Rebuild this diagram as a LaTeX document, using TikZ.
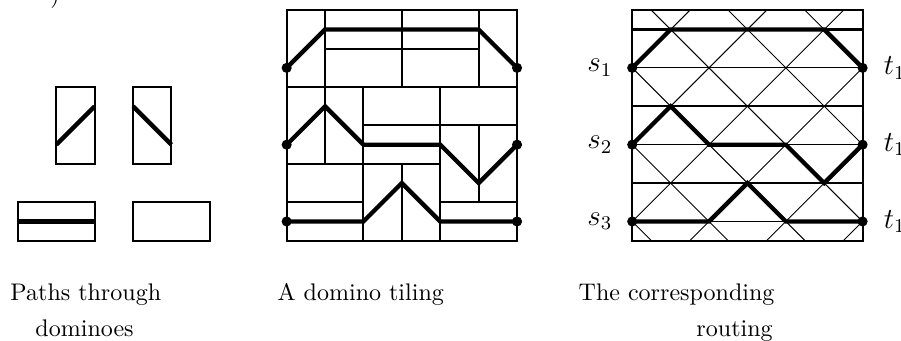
\documentclass[tikz,border=0pt]{standalone}
\usepackage{tikz}
\begin{document}
\begin{tikzpicture}[
        domino/.style={line width=1.5pt},
        wire/.style={line width=0.7pt},
        route/.style={line width=3.2pt},
        pin/.style={circle, fill=black, inner sep=0pt, minimum size=7.5pt},
        caption/.style={font=\fontsize{10}{12}\selectfont, scale=1.78, inner sep=0pt},
        term/.style={font=\fontsize{12}{14}\selectfont, scale=1.8},
      ]
      \useasboundingbox (-7.466, -2.612) rectangle (16.0, 6.268);

      % cut-off label above the legend
      \node[caption, anchor=south] (cut) at (-6.03, 6.04) {)};

      % legend: paths through single dominoes
      \draw[domino] (-6, 2) rectangle (-5, 4);
      \draw[route] (-6, 2.5) -- (-5, 3.5);
      \draw[domino] (-4, 2) rectangle (-3, 4);
      \draw[route] (-4, 3.5) -- (-3, 2.5);
      \draw[domino] (-7, 0) rectangle (-5, 1);
      \draw[route] (-7, 0.5) -- (-5, 0.5);
      \draw[domino] (-4, 0) rectangle (-2, 1);

      % domino tiling
      \draw[domino] (0, 0) rectangle (6, 6);
      \draw[domino] (1, 2) -- (1, 6) (2, 0) -- (2, 4) (3, 0) -- (3, 2)
      (3, 4) -- (3, 6) (4, 0) -- (4, 4) (5, 1) -- (5, 3) (5, 4) -- (5, 6);
      \draw[domino] (1, 5) -- (5, 5) (0, 4) -- (6, 4) (2, 3) -- (6, 3)
      (0, 2) -- (4, 2) (0, 1) -- (2, 1) (4, 1) -- (6, 1);
      \draw[route] (0, 4.5) -- (1, 5.5) -- (5, 5.5) -- (6, 4.5);
      \draw[route] (0, 2.5) -- (1, 3.5) -- (2, 2.5) -- (4, 2.5) -- (5, 1.5)
      -- (6, 2.5);
      \draw[route] (0, 0.5) -- (2, 0.5) -- (3, 1.5) -- (4, 0.5) -- (6, 0.5);
      \foreach \y/\n in {4.5/1, 2.5/2, 0.5/3} {
        \node[pin] (ts\n) at (0, \y) {};
        \node[pin] (tt\n) at (6, \y) {};
      }

      % routing
      \begin{scope}[xshift=9cm]
        \begin{scope}
          \clip (0, 0) rectangle (6, 6);
          \foreach \c in {0.5, 2.5, ..., 10.5}
            \draw[wire] (\c + 0.5, -0.5) -- (\c - 6.5, 6.5);
          \foreach \d in {-4.5, -2.5, ..., 5.5}
            \draw[wire] (\d - 0.5, -0.5) -- (\d + 6.5, 6.5);
        \end{scope}
        \foreach \y in {0.5, 2.5, 4.5}
          \draw[wire] (0, \y) -- (6, \y);
        \foreach \y in {1.5, 3.5, 5.5}
          \draw[domino] (0, \y) -- (6, \y);
        \draw[domino] (0, 0) rectangle (6, 6);
        \draw[route] (0, 4.5) -- (1, 5.5) -- (5, 5.5) -- (6, 4.5);
        \draw[route] (0, 2.5) -- (1, 3.5) -- (2, 2.5) -- (4, 2.5) -- (5, 1.5)
        -- (6, 2.5);
        \draw[route] (0, 0.5) -- (2, 0.5) -- (3, 1.5) -- (4, 0.5) -- (6, 0.5);
        \foreach \y/\n in {4.5/1, 2.5/2, 0.5/3} {
          \node[pin] (rs\n) at (0, \y) {};
          \node[pin] (rt\n) at (6, \y) {};
          \node[term] (s\n) at (-0.84, \y) {$s_\n$};
          \node[term] (t\n) at (6.84, \y) {$t_1$};
        }
      \end{scope}

      % captions
      \node[caption, anchor=base west] (cap1) at (-7.206, -1.56) {Paths through};
      \node[caption, anchor=base west] (cap1b) at (-6.555, -2.50) {dominoes};
      \node[caption, anchor=base west] (cap2) at (-0.245, -1.56) {A domino tiling};
      \node[caption, anchor=base west] (cap3) at (7.594, -1.56) {The corresponding};
      \node[caption, anchor=base east] (cap3b) at (12.67, -2.50) {routing};
    \end{tikzpicture}
\end{document}
